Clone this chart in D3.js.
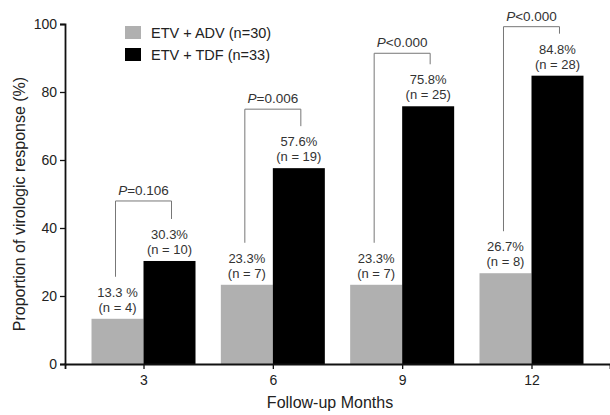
<!DOCTYPE html>
<html>
<head>
<meta charset="utf-8">
<script src="https://cdn.jsdelivr.net/npm/d3@7"></script>
<style>
  body { margin: 0; background: #fff; }
  svg { font-family: "Liberation Sans", Arial, sans-serif; }
</style>
</head>
<body>
<svg id="chart" width="610" height="415"></svg>
<script>
// data
const months = ["3", "6", "9", "12"];
const adv = [13.3, 23.3, 23.3, 26.7];
const tdf = [30.3, 57.6, 75.8, 84.8];
const advN = [4, 7, 7, 8];
const tdfN = [10, 19, 25, 28];
const advLabels = ["13.3 %", "23.3%", "23.3%", "26.7%"];
const tdfLabels = ["30.3%", "57.6%", "75.8%", "84.8%"];
const pSign = ["=", "=", "<", "<"];
const pValues = ["0.106", "0.006", "0.000", "0.000"];
const seriesNames = ["ETV + ADV (n=30)", "ETV + TDF (n=33)"];
const yTicks = [0, 20, 40, 60, 80, 100];

const colors = ["#b0b0b0", "#000000"];

let svg = d3.select("#chart");
const mLeft = 65, mRight = 610, mTop = 24, mBottom = 364;

let x = d3.scalePoint().domain(months).range([mLeft, mRight]).padding(0.607);
let y = d3.scaleLinear().domain([0, 100]).range([mBottom, mTop]);
const barW = 52;

// bars
let groups = svg.selectAll("g.grp")
  .data(months)
  .join("g")
  .attr("class", "grp");

groups.append("rect")
  .attr("x", d => x(d) - barW)
  .attr("width", barW)
  .attr("y", (d, i) => y(adv[i]))
  .attr("height", (d, i) => y(0) - y(adv[i]))
  .attr("fill", colors[0]);

groups.append("rect")
  .attr("x", d => x(d))
  .attr("width", barW)
  .attr("y", (d, i) => y(tdf[i]))
  .attr("height", (d, i) => y(0) - y(tdf[i]))
  .attr("fill", colors[1]);

// value labels
function addLabel(g, cx, barTop, txt, n) {
  let t = g.append("text")
    .attr("text-anchor", "middle")
    .attr("font-size", 13)
    .attr("fill", "#333");
  t.append("tspan").attr("x", cx).attr("y", barTop - 22).text(txt);
  t.append("tspan").attr("x", cx).attr("y", barTop - 7).text(`(n = ${n})`);
}
groups.each(function (d, i) {
  let g = d3.select(this);
  addLabel(g, x(d) - barW / 2, y(adv[i]), advLabels[i], advN[i]);
  addLabel(g, x(d) + barW / 2, y(tdf[i]), tdfLabels[i], tdfN[i]);
});

// significance brackets
const bracketGap = [60, 59, 53, 49];
groups.each(function (d, i) {
  let g = d3.select(this);
  let x1 = x(d) - barW / 2 - 2, x2 = x(d) + barW / 2 + 2;
  let yTop = y(tdf[i]) - bracketGap[i];
  let y1 = y(adv[i]) - 42, y2 = y(tdf[i]) - 42;
  g.append("path")
    .attr("d", `M${x1},${y1}V${yTop}H${x2}V${y2}`)
    .attr("fill", "none")
    .attr("stroke", "#777")
    .attr("stroke-width", 1);
  let t = g.append("text")
    .attr("x", x(d))
    .attr("y", yTop - 6)
    .attr("text-anchor", "middle")
    .attr("font-size", 13.5)
    .attr("fill", "#333");
  t.append("tspan").attr("font-style", "italic").text("P");
  t.append("tspan").text(pSign[i] + pValues[i]);
});

// axes
let xAxis = svg.append("g")
  .attr("transform", `translate(0,${mBottom})`)
  .call(d3.axisBottom(x).tickSizeOuter(0).tickSize(5).tickPadding(6));
xAxis.select(".domain").attr("stroke", "#111").attr("stroke-width", 1.8);
xAxis.selectAll(".tick line").attr("stroke", "#111").attr("stroke-width", 1.3);
xAxis.selectAll("text").attr("font-size", 14).attr("fill", "#222").attr("font-family", "Liberation Sans, Arial, sans-serif");

let yAxis = svg.append("g")
  .attr("transform", `translate(${mLeft},0)`)
  .call(d3.axisLeft(y).tickValues(yTicks).tickSizeOuter(0).tickSize(5).tickPadding(3));
yAxis.select(".domain").attr("stroke", "#111").attr("stroke-width", 1.8);
yAxis.selectAll(".tick line").attr("stroke", "#111").attr("stroke-width", 1.3);
yAxis.selectAll("text").attr("font-size", 14).attr("fill", "#222").attr("font-family", "Liberation Sans, Arial, sans-serif");

// axis titles
svg.append("text")
  .attr("x", 330)
  .attr("y", 408)
  .attr("text-anchor", "middle")
  .attr("font-size", 16)
  .attr("fill", "#222")
  .text("Follow-up Months");

svg.append("text")
  .attr("transform", `translate(25,${(mTop + mBottom) / 2 + 10}) rotate(-90)`)
  .attr("text-anchor", "middle")
  .attr("font-size", 16)
  .attr("fill", "#222")
  .text("Proportion of virologic response (%)");

// legend
let legend = svg.selectAll("g.legend")
  .data(seriesNames)
  .join("g")
  .attr("class", "legend")
  .attr("transform", (d, i) => `translate(125,${26 + i * 22})`);
legend.append("rect")
  .attr("width", 16)
  .attr("height", 13)
  .attr("fill", (d, i) => colors[i]);
legend.append("text")
  .attr("x", 26)
  .attr("y", 12)
  .attr("font-size", 14.5)
  .attr("fill", "#222")
  .text(d => d);
</script>
</body>
</html>
